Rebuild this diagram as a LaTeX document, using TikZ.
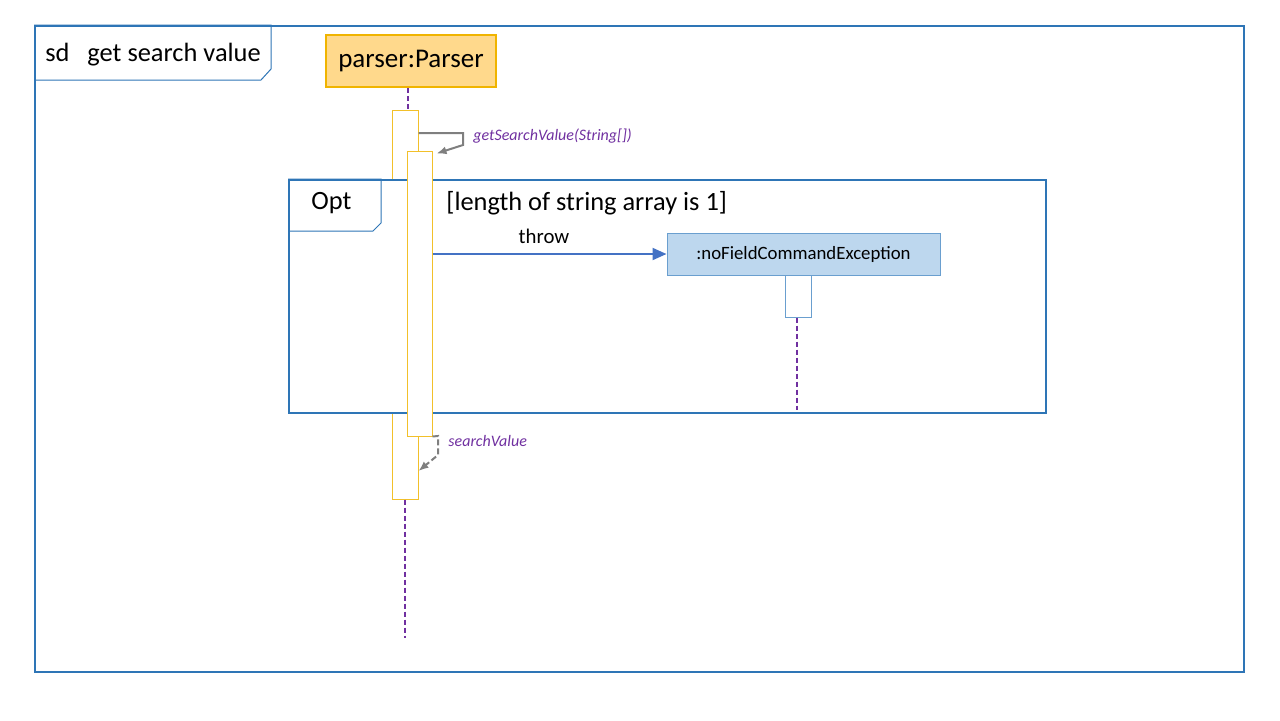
\documentclass[tikz,border=0pt]{standalone}
\usepackage{fontspec}
\setmainfont{Carlito}
\usetikzlibrary{arrows.meta,calc}
\definecolor{frameblue}{HTML}{2E75B6}
\definecolor{goldline}{HTML}{F2C02A}
\definecolor{parserfill}{HTML}{FFD98C}
\definecolor{parserdraw}{HTML}{F0B400}
\definecolor{excfill}{HTML}{BDD7EE}
\definecolor{excdraw}{HTML}{6A9FCF}
\definecolor{arrowblue}{HTML}{4472C4}
\definecolor{lblpurple}{HTML}{7030A0}
\definecolor{retgray}{HTML}{7F7F7F}
\tikzset{
  frame/.style={draw=frameblue, line width=1pt, inner sep=0pt},
  tabline/.style={draw=frameblue, line width=0.5pt},
  actbar/.style={draw=goldline, fill=white, line width=0.5pt, inner sep=0pt},
  lifeline/.style={draw=lblpurple, dashed, dash pattern=on 2.5pt off 1.5pt, line width=0.6pt},
  msglbl/.style={text=lblpurple, font=\fontsize{8}{9}\selectfont\itshape, inner sep=0pt, anchor=west},
  bigtxt/.style={font=\fontsize{13.2}{15}\selectfont, inner sep=0pt, anchor=west},
  callarrow/.style={draw=retgray, line width=1pt, -{Latex[length=5pt,width=4pt]}},
}
\begin{document}
\begin{tikzpicture}[x=0.5pt,y=-0.5pt]
\useasboundingbox (0,0) rectangle (1280,720);
% outer frame
\node[frame, minimum width=604.5pt, minimum height=323pt] (outer) at (639.5,349) {};
\draw[tabline] (outer.north west) -- ++(237,0) -- ++(0,44) -- ++(-10,11) -- ++(-227,0);
\node[bigtxt] (sdlbl) at (45,55) {sd\ \ \ get search value};
% parser
\node[draw=parserdraw, fill=parserfill, line width=1pt, minimum width=85pt, minimum height=26pt, inner sep=0pt, font=\fontsize{13.5}{15}\selectfont] (parser) at (411,61) {parser:Parser};
% activation 1
\node[actbar, minimum width=13pt, minimum height=194.5pt] (act1) at (405,304.5) {};
\draw[lifeline] (parser.south -| 408,0) -- (408,110);
\coordinate (end1) at (405,638);
\draw[lifeline] (act1.south) -- (end1);
% opt frame
\node[frame, fill=white, minimum width=378.5pt, minimum height=116.5pt] (opt) at (667.5,296.5) {};
\draw[tabline] (opt.north west) -- ++(93,0) -- ++(0,44) -- ++(-8,8) -- ++(-85,0);
\node[bigtxt] (optlbl) at (311,203) {Opt};
\node[bigtxt] (guard) at (446,203) {[length of string array is 1]};
% activation 2
\node[actbar, minimum width=12.5pt, minimum height=142.5pt] (act2) at (419.5,293.5) {};
% exception
\node[draw=excdraw, fill=excfill, line width=0.5pt, minimum width=136.5pt, minimum height=21pt, inner sep=0pt, font=\fontsize{9.4}{11}\selectfont] (exc) at (803.5,254) {:noFieldCommandException};
\node[draw=excdraw, fill=white, line width=0.5pt, minimum width=13pt, minimum height=21pt, inner sep=0pt] (excact) at (798,296) {};
\coordinate (end2) at (797,410);
\draw[lifeline] (excact.south -| end2) -- (end2);
% throw
\draw[draw=arrowblue, line width=1pt, -{Triangle[length=7pt,width=6pt]}] (act2.east |- exc.west) -- (exc.west);
\node[font=\fontsize{10.4}{12}\selectfont, inner sep=0pt] (throwlbl) at (544,236) {throw};
% self call
\coordinate (sc1) at (463,133);
\coordinate (sc2) at (463,145);
\draw[callarrow] (act1.east |- sc1) -- (sc1) -- (sc2) -- ($(act2.north east)+(4,3)$);
\node[msglbl] (calllbl) at (473,136) {getSearchValue(String[])};
% return
\coordinate (r1) at (438,436);
\coordinate (r2) at (438,455);
\draw[callarrow, dashed, dash pattern=on 3pt off 1.5pt] (act2.south east) -- (r1) -- (r2) -- (act1.east |- 0,471);
\node[msglbl] (retlbl) at (448,441) {searchValue};
\end{tikzpicture}
\end{document}
